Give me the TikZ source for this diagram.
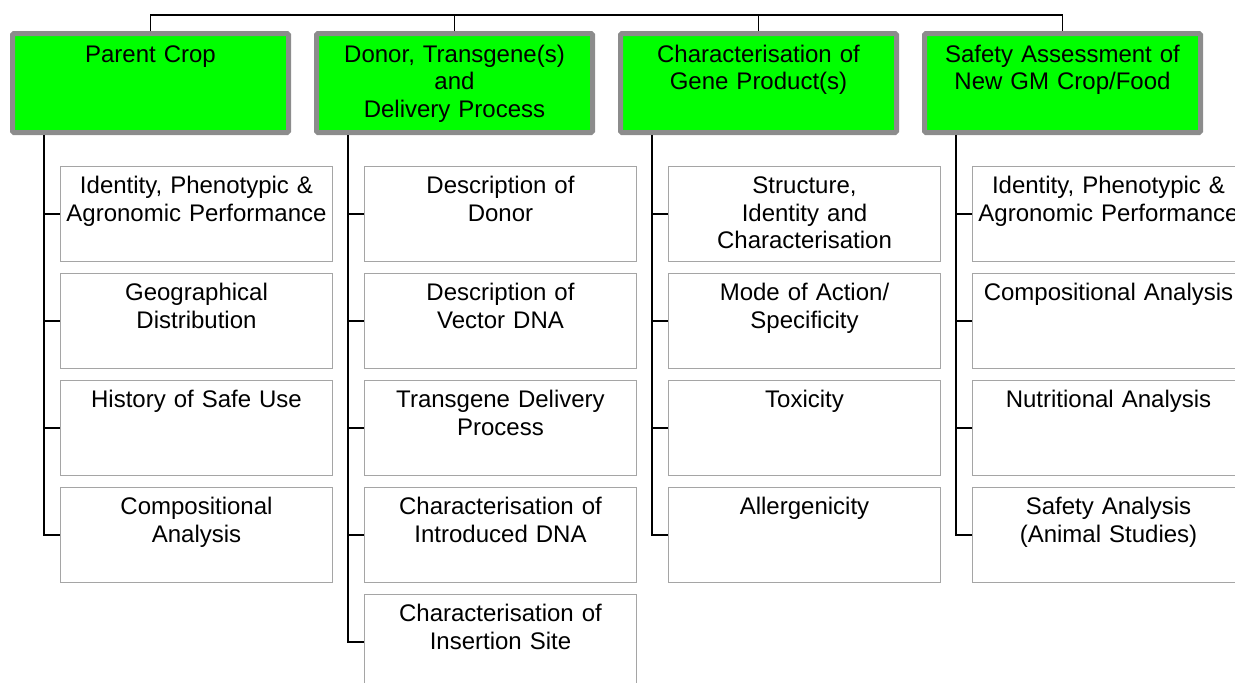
\documentclass[tikz,border=0pt]{standalone}
\usepackage{fontspec}
\setmainfont{Liberation Sans}
\definecolor{hdrgreen}{RGB}{0,255,0}
\definecolor{hdrgray}{RGB}{140,140,140}
\definecolor{boxgray}{RGB}{165,165,165}
\tikzset{
  hdr/.style={draw=hdrgray, line width=5pt, fill=hdrgreen, rounded corners=1.5pt,
    minimum width=276pt, minimum height=99pt, inner sep=0pt},
  child/.style={draw=boxgray, line width=1.2pt, minimum width=272pt,
    minimum height=95pt, inner sep=0pt},
  txt/.style={anchor=base, align=center, text width=270pt, inner sep=0pt,
    font=\fontsize{24}{27.5}\selectfont},
  conn/.style={draw=black, line width=1.2pt}
}
\begin{document}
\begin{tikzpicture}[x=1pt,y=-1pt]
\useasboundingbox (0,0) rectangle (1235,683);
\clip (0,0) rectangle (1235,683);

% header boxes
\node[hdr] (h1) at (150.5,83) {};
\node[hdr] (h2) at (454.5,83) {};
\node[hdr] (h3) at (758.5,83) {};
\node[hdr] (h4) at (1062.5,83) {};
\node[txt] (h1t) at ([yshift=-31pt]h1.north) {Parent Crop};
\node[txt] (h2t) at ([yshift=-31pt]h2.north) {Donor, Transgene(s)\\and\\Delivery Process};
\node[txt] (h3t) at ([yshift=-31pt]h3.north) {Characterisation of\\Gene Product(s)};
\node[txt] (h4t) at ([yshift=-31pt]h4.north) {Safety Assessment of\\New GM Crop/Food};

% top bus
\coordinate (bus) at (0,15);
\draw[conn] (h1.north) -- (h1.north |- bus) -- (h4.north |- bus) -- (h4.north);
\draw[conn] (h2.north) -- (h2.north |- bus);
\draw[conn] (h3.north) -- (h3.north |- bus);

% child boxes, column 1
\node[child] (b11) at (196.5,214) {};
\node[child] (b12) at (196.5,321) {};
\node[child] (b13) at (196.5,428) {};
\node[child] (b14) at (196.5,535) {};
% column 2
\node[child] (b21) at (500.5,214) {};
\node[child] (b22) at (500.5,321) {};
\node[child] (b23) at (500.5,428) {};
\node[child] (b24) at (500.5,535) {};
\node[child] (b25) at (500.5,642) {};
% column 3
\node[child] (b31) at (804.5,214) {};
\node[child] (b32) at (804.5,321) {};
\node[child] (b33) at (804.5,428) {};
\node[child] (b34) at (804.5,535) {};
% column 4
\node[child] (b41) at (1108.5,214) {};
\node[child] (b42) at (1108.5,321) {};
\node[child] (b43) at (1108.5,428) {};
\node[child] (b44) at (1108.5,535) {};

% texts
\node[txt] (b11t) at ([yshift=-28pt]b11.north) {Identity, Phenotypic \&\\Agronomic Performance};
\node[txt] (b12t) at ([yshift=-28pt]b12.north) {Geographical\\Distribution};
\node[txt] (b13t) at ([yshift=-28pt]b13.north) {History of Safe Use};
\node[txt] (b14t) at ([yshift=-28pt]b14.north) {Compositional\\Analysis};
\node[txt] (b21t) at ([yshift=-28pt]b21.north) {Description of\\Donor};
\node[txt] (b22t) at ([yshift=-28pt]b22.north) {Description of\\Vector DNA};
\node[txt] (b23t) at ([yshift=-28pt]b23.north) {Transgene Delivery\\Process};
\node[txt] (b24t) at ([yshift=-28pt]b24.north) {Characterisation of\\Introduced DNA};
\node[txt] (b25t) at ([yshift=-28pt]b25.north) {Characterisation of\\Insertion Site};
\node[txt] (b31t) at ([yshift=-28pt]b31.north) {Structure,\\Identity and\\Characterisation};
\node[txt] (b32t) at ([yshift=-28pt]b32.north) {Mode of Action/\\Specificity};
\node[txt] (b33t) at ([yshift=-28pt]b33.north) {Toxicity};
\node[txt] (b34t) at ([yshift=-28pt]b34.north) {Allergenicity};
\node[txt] (b41t) at ([yshift=-28pt]b41.north) {Identity, Phenotypic \&\\Agronomic Performance};
\node[txt] (b42t) at ([yshift=-28pt]b42.north) {Compositional Analysis};
\node[txt] (b43t) at ([yshift=-28pt]b43.north) {Nutritional Analysis};
\node[txt] (b44t) at ([yshift=-28pt]b44.north) {Safety Analysis\\(Animal Studies)};

% side connectors
\coordinate (v1) at ([xshift=34pt]h1.south west);
\coordinate (v2) at ([xshift=34pt]h2.south west);
\coordinate (v3) at ([xshift=34pt]h3.south west);
\coordinate (v4) at ([xshift=34pt]h4.south west);
\draw[conn] (v1) |- (b14.west);
\draw[conn] (v2) |- (b25.west);
\draw[conn] (v3) |- (b34.west);
\draw[conn] (v4) |- (b44.west);
\foreach \c/\n in {1/3,2/4,3/3,4/3}{
  \foreach \r in {1,...,\n}{
    \draw[conn] (b\c\r.west -| v\c) -- (b\c\r.west);
  }
}
\end{tikzpicture}
\end{document}
